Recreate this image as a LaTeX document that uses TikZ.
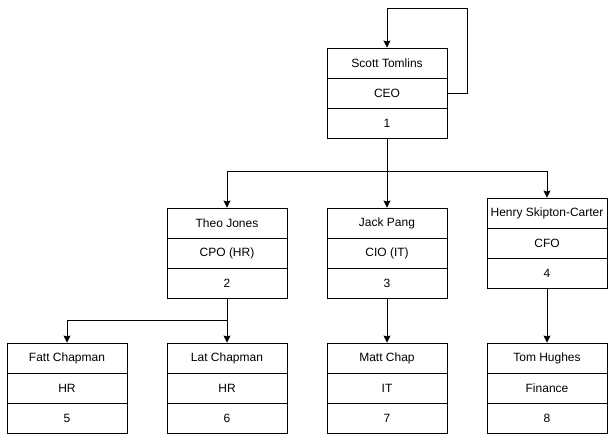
\documentclass[tikz,border=0pt]{standalone}
\usepackage{fontspec}
\setmainfont{Liberation Sans}
\usetikzlibrary{arrows.meta}

\tikzset{
    cell/.style={draw, line width=0.9pt, minimum width=120pt, minimum height=30pt,
        inner sep=0pt, font=\fontsize{12}{14}\selectfont},
    link/.style={line width=0.9pt, -{Stealth[length=7pt,width=7pt,inset=1pt]}}
}

\begin{document}
\begin{tikzpicture}[x=1pt,y=-1pt]
    \useasboundingbox (0,0) rectangle (615,445);

    % CEO
    \node[cell] (ceoname) at (387,63) {Scott Tomlins};
    \node[cell] (ceorole) at (387,93) {CEO};
    \node[cell] (ceoid) at (387,123) {1};

    % Dirigenti
    \node[cell] (theoname) at (227,223) {Theo Jones};
    \node[cell] (theorole) at (227,253) {CPO (HR)};
    \node[cell] (theoid) at (227,283) {2};

    \node[cell] (jackname) at (387,223) {Jack Pang};
    \node[cell] (jackrole) at (387,253) {CIO (IT)};
    \node[cell] (jackid) at (387,283) {3};

    \node[cell] (henryname) at (547,213) {Henry Skipton-Carter};
    \node[cell] (henryrole) at (547,243) {CFO};
    \node[cell] (henryid) at (547,273) {4};

    % Impiegati
    \node[cell] (fattname) at (67,358) {Fatt Chapman};
    \node[cell] (fattrole) at (67,388) {HR};
    \node[cell] (fattid) at (67,418) {5};

    \node[cell] (latname) at (227,358) {Lat Chapman};
    \node[cell] (latrole) at (227,388) {HR};
    \node[cell] (latid) at (227,418) {6};

    \node[cell] (mattname) at (387,358) {Matt Chap};
    \node[cell] (mattrole) at (387,388) {IT};
    \node[cell] (mattid) at (387,418) {7};

    \node[cell] (tomname) at (547,358) {Tom Hughes};
    \node[cell] (tomrole) at (547,388) {Finance};
    \node[cell] (tomid) at (547,418) {8};

    % Punti di snodo
    \coordinate (loop) at (467,8);
    \coordinate (ceobus) at (387,171);
    \coordinate (theobus) at (227,320);

    % Collegamenti
    \draw[link] (ceorole.east) -| (loop) -| (ceoname.north);
    \draw[link] (ceoid.south) -- (jackname.north);
    \draw[link] (ceobus) -| (theoname.north);
    \draw[link] (ceobus) -| (henryname.north);
    \draw[link] (theoid.south) -- (latname.north);
    \draw[link] (theobus) -| (fattname.north);
    \draw[link] (jackid.south) -- (mattname.north);
    \draw[link] (henryid.south) -- (tomname.north);
\end{tikzpicture}
\end{document}
